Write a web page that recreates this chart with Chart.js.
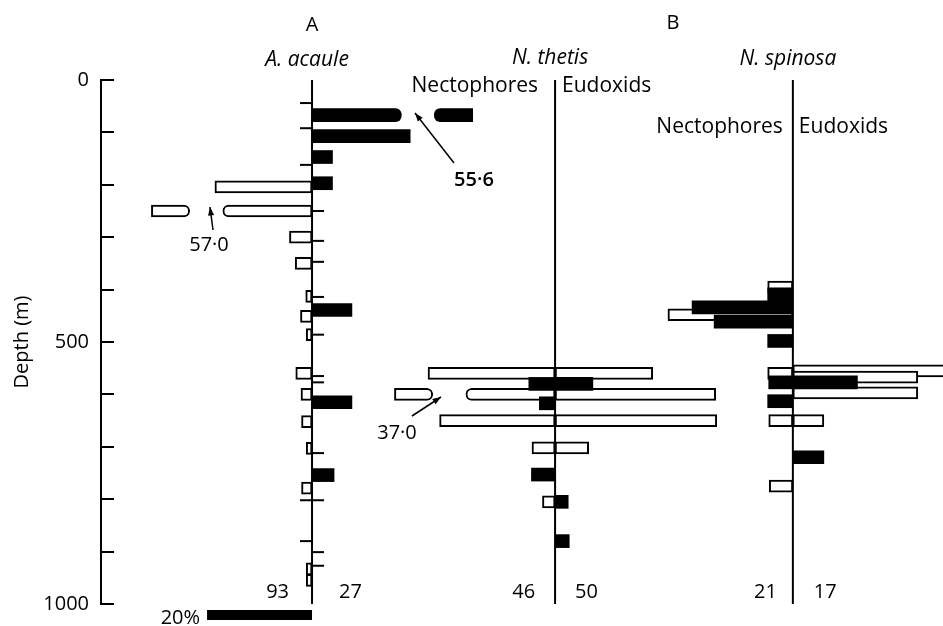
<!DOCTYPE html>
<html>
<head>
<meta charset="utf-8">
<script src="https://cdn.jsdelivr.net/npm/chart.js@4.4.0/dist/chart.umd.min.js"></script>
<style>
  html, body { margin: 0; padding: 0; background: #fff; overflow: hidden; }
  canvas { display: block; }
</style>
</head>
<body>
<canvas id="chart" width="943" height="626"></canvas>
<script>
// each sample: [depth (m), % of the species' total catch]
const acauleNectophores = [[204, 18.5], [250, 57.0], [300, 4.3], [350, 3.2], [413, 1.2], [451, 2.2],
  [486, 1.1], [560, 3.1], [600, 2.1], [652, 2.0], [703, 1.1], [779, 2.0], [933, 1.1], [955, 1.1]];
const acauleEudoxids = [[67, 55.6], [107, 18.7], [147, 3.9], [197, 3.9], [439, 7.6], [615, 7.6], [754, 4.2]];
const acauleNoNectophores = [44, 92, 162, 802, 880];
const acauleNoEudoxids = [250, 307, 347, 414, 486, 565, 577, 712, 802, 901, 927];

const thetisNectophoresOpen = [[560, 24.2], [600, 37.0], [650, 22.0], [702, 4.4], [805, 2.4]];
const thetisNectophoresFilled = [[580, 5.0], [617, 3.0], [753, 4.5]];
const thetisEudoxidsOpen = [[560, 18.6], [600, 30.6], [650, 30.8], [702, 6.4]];
const thetisEudoxidsFilled = [[580, 7.2], [805, 2.5], [880, 2.7]];

const spinosaNectophoresOpen = [[395, 4.8], [448, 23.8], [560, 4.8], [650, 4.6], [775, 4.5]];
const spinosaNectophoresFilled = [[409, 4.8], [434, 19.2], [461, 15.0], [498, 4.8], [577, 4.6], [613, 4.8]];
const spinosaEudoxidsOpen = [[555, 29.4], [567, 23.8], [597, 23.8], [650, 5.9]];
const spinosaEudoxidsFilled = [[577, 12.3], [720, 5.9]];

const nectophoreTotals = [93, 46, 21];
const eudoxidTotals = [27, 50, 17];
const depthTickLabels = [0, 500, 1000];

// layout, in % units measured from the depth axis
const X_MAX = 160.4;
const CENTER_A = 40.2, CENTER_B = 86.5, CENTER_C = 131.8;
const BREAK_AT = 31, GAP_FROM = 17, GAP_TO = 23.3, SHOWN_TO = 30.6;
const FONT = "'Open Sans', 'DejaVu Sans', sans-serif";

function bars(series, center, side) {
  const out = [];
  series.forEach(([depth, pct]) => {
    if (pct <= BREAK_AT) {
      out.push({ x: [center, center + side * pct], y: depth });
    } else {
      // too long to draw: broken bar
      const near = side > 0 ? 'right' : 'left';
      const far = side > 0 ? 'left' : 'right';
      out.push({ x: [center, center + side * GAP_FROM], y: depth, cut: near });
      out.push({ x: [center + side * GAP_TO, center + side * SHOWN_TO], y: depth, cut: far });
    }
  });
  return out;
}

function cutRadius(c) {
  const cut = c.raw && c.raw.cut;
  if (cut === 'left') return { topLeft: 6, bottomLeft: 6, topRight: 0, bottomRight: 0 };
  if (cut === 'right') return { topLeft: 0, bottomLeft: 0, topRight: 6, bottomRight: 6 };
  return 0;
}

const openBar = {
  type: 'bar', backgroundColor: '#fff', borderColor: '#000', borderWidth: 2,
  borderSkipped: false, barThickness: 12, grouped: false, order: 3, borderRadius: cutRadius
};
const filledBar = {
  type: 'bar', backgroundColor: '#000', borderColor: '#000', borderWidth: 0,
  borderSkipped: false, barThickness: 13, grouped: false, order: 2, borderRadius: cutRadius
};

function centreLine(center) {
  return {
    type: 'line', data: [{ x: center, y: 0 }, { x: center, y: 1000 }],
    borderColor: '#000', borderWidth: 2, pointRadius: 0, clip: false, order: 0
  };
}

function zeroTicks(depths, center, side) {
  return {
    type: 'scatter', data: depths.map(d => ({ x: center + side * 1.15, y: d })),
    pointStyle: 'line', radius: 6, borderColor: '#000', borderWidth: 2, order: 0
  };
}

const datasets = [
  { ...openBar, data: bars(acauleNectophores, CENTER_A, -1) },
  { ...filledBar, data: bars(acauleEudoxids, CENTER_A, 1) },
  { ...openBar, data: bars(thetisNectophoresOpen, CENTER_B, -1) },
  { ...openBar, data: bars(thetisEudoxidsOpen, CENTER_B, 1) },
  { ...filledBar, data: bars(thetisNectophoresFilled, CENTER_B, -1) },
  { ...filledBar, data: bars(thetisEudoxidsFilled, CENTER_B, 1) },
  { ...openBar, data: bars(spinosaNectophoresOpen, CENTER_C, -1) },
  { ...openBar, data: bars(spinosaEudoxidsOpen, CENTER_C, 1) },
  { ...filledBar, data: bars(spinosaNectophoresFilled, CENTER_C, -1) },
  { ...filledBar, data: bars(spinosaEudoxidsFilled, CENTER_C, 1) },
  zeroTicks(acauleNoNectophores, CENTER_A, -1),
  zeroTicks(acauleNoEudoxids, CENTER_A, 1),
  centreLine(CENTER_A),
  centreLine(CENTER_B),
  centreLine(CENTER_C)
];

function text(ctx, str, x, y, align, size, style) {
  ctx.font = (style || '') + ' ' + size + 'px ' + FONT;
  ctx.textAlign = align;
  ctx.textBaseline = 'middle';
  ctx.fillStyle = '#000';
  ctx.fillText(str, x, y);
}

function arrow(ctx, x1, y1, x2, y2) {
  const a = Math.atan2(y2 - y1, x2 - x1);
  ctx.strokeStyle = '#000';
  ctx.lineWidth = 1.5;
  ctx.beginPath();
  ctx.moveTo(x1, y1);
  ctx.lineTo(x2, y2);
  ctx.stroke();
  ctx.beginPath();
  ctx.moveTo(x2, y2);
  ctx.lineTo(x2 - 9 * Math.cos(a - 0.35), y2 - 9 * Math.sin(a - 0.35));
  ctx.lineTo(x2 - 9 * Math.cos(a + 0.35), y2 - 9 * Math.sin(a + 0.35));
  ctx.closePath();
  ctx.fillStyle = '#000';
  ctx.fill();
}

const notes = {
  id: 'notes',
  afterDraw(chart) {
    const { ctx, scales: { x } } = chart;
    const a = x.getPixelForValue(CENTER_A);
    const b = x.getPixelForValue(CENTER_B);
    const c = x.getPixelForValue(CENTER_C);
    ctx.save();

    text(ctx, 'A', a, 25, 'center', 20);
    text(ctx, 'B', 673, 23, 'center', 20);
    text(ctx, 'A. acaule', a - 5, 60, 'center', 21, 'italic');
    text(ctx, 'N. thetis', b - 5, 58, 'center', 21, 'italic');
    text(ctx, 'N. spinosa', c - 5, 59, 'center', 21, 'italic');
    text(ctx, 'Nectophores', b - 17, 86, 'right', 21);
    text(ctx, 'Eudoxids', b + 7, 86, 'left', 21);
    text(ctx, 'Nectophores', c - 10, 127, 'right', 21);
    text(ctx, 'Eudoxids', c + 6, 127, 'left', 21);

    const tally = [[a, 23, 27], [b, 20, 20], [c, 16, 21]];
    tally.forEach(([cx, l, r], i) => {
      text(ctx, String(nectophoreTotals[i]), cx - l, 592, 'right', 20);
      text(ctx, String(eudoxidTotals[i]), cx + r, 592, 'left', 20);
    });

    // 20% scale bar under A. acaule
    const s0 = x.getPixelForValue(CENTER_A - 20);
    ctx.fillStyle = '#000';
    ctx.fillRect(s0, 610, a - s0, 10);
    text(ctx, '20%', s0 - 7, 618, 'right', 20);

    // values of the broken bars
    text(ctx, '55·6', 474, 180, 'center', 20, '600');
    arrow(ctx, 454, 163, 415, 113);
    text(ctx, '57·0', 209, 245, 'center', 20);
    arrow(ctx, 213, 230, 210, 207);
    text(ctx, '37·0', 397, 433, 'center', 20);
    arrow(ctx, 412, 416, 441, 397);

    ctx.restore();
  }
};

new Chart(document.getElementById('chart'), {
  type: 'bar',
  data: { datasets },
  plugins: [notes],
  options: {
    responsive: false,
    devicePixelRatio: 1,
    animation: false,
    indexAxis: 'y',
    layout: { autoPadding: false, padding: { top: 80, bottom: 22, left: 0, right: 0 } },
    plugins: { legend: { display: false }, tooltip: { enabled: false } },
    scales: {
      x: {
        type: 'linear', min: 0, max: X_MAX, display: false, ticks: { display: false },
        afterFit: s => { s.paddingLeft = 0; s.paddingRight = 0; s.paddingTop = 0; s.paddingBottom = 0; }
      },
      y: {
        type: 'linear', position: 'left', reverse: true, min: 0, max: 1000,
        offset: false,
        afterFit: s => { s.width = 101; s.paddingTop = 0; s.paddingBottom = 0; s.paddingLeft = 0; s.paddingRight = 0; },
        border: { display: true, color: '#000', width: 2 },
        grid: { offset: false, drawOnChartArea: false, drawTicks: true, tickLength: -13, color: '#000', lineWidth: 2 },
        ticks: {
          stepSize: 100, autoSkip: false, padding: 25, color: '#000',
          font: { family: FONT, size: 20 },
          callback: v => (depthTickLabels.includes(v) ? String(v) : '')
        },
        title: {
          display: true, text: 'Depth (m)', color: '#000',
          font: { family: FONT, size: 20 }, padding: { top: 10, bottom: 0 }
        }
      }
    }
  }
});
</script>
</body>
</html>
